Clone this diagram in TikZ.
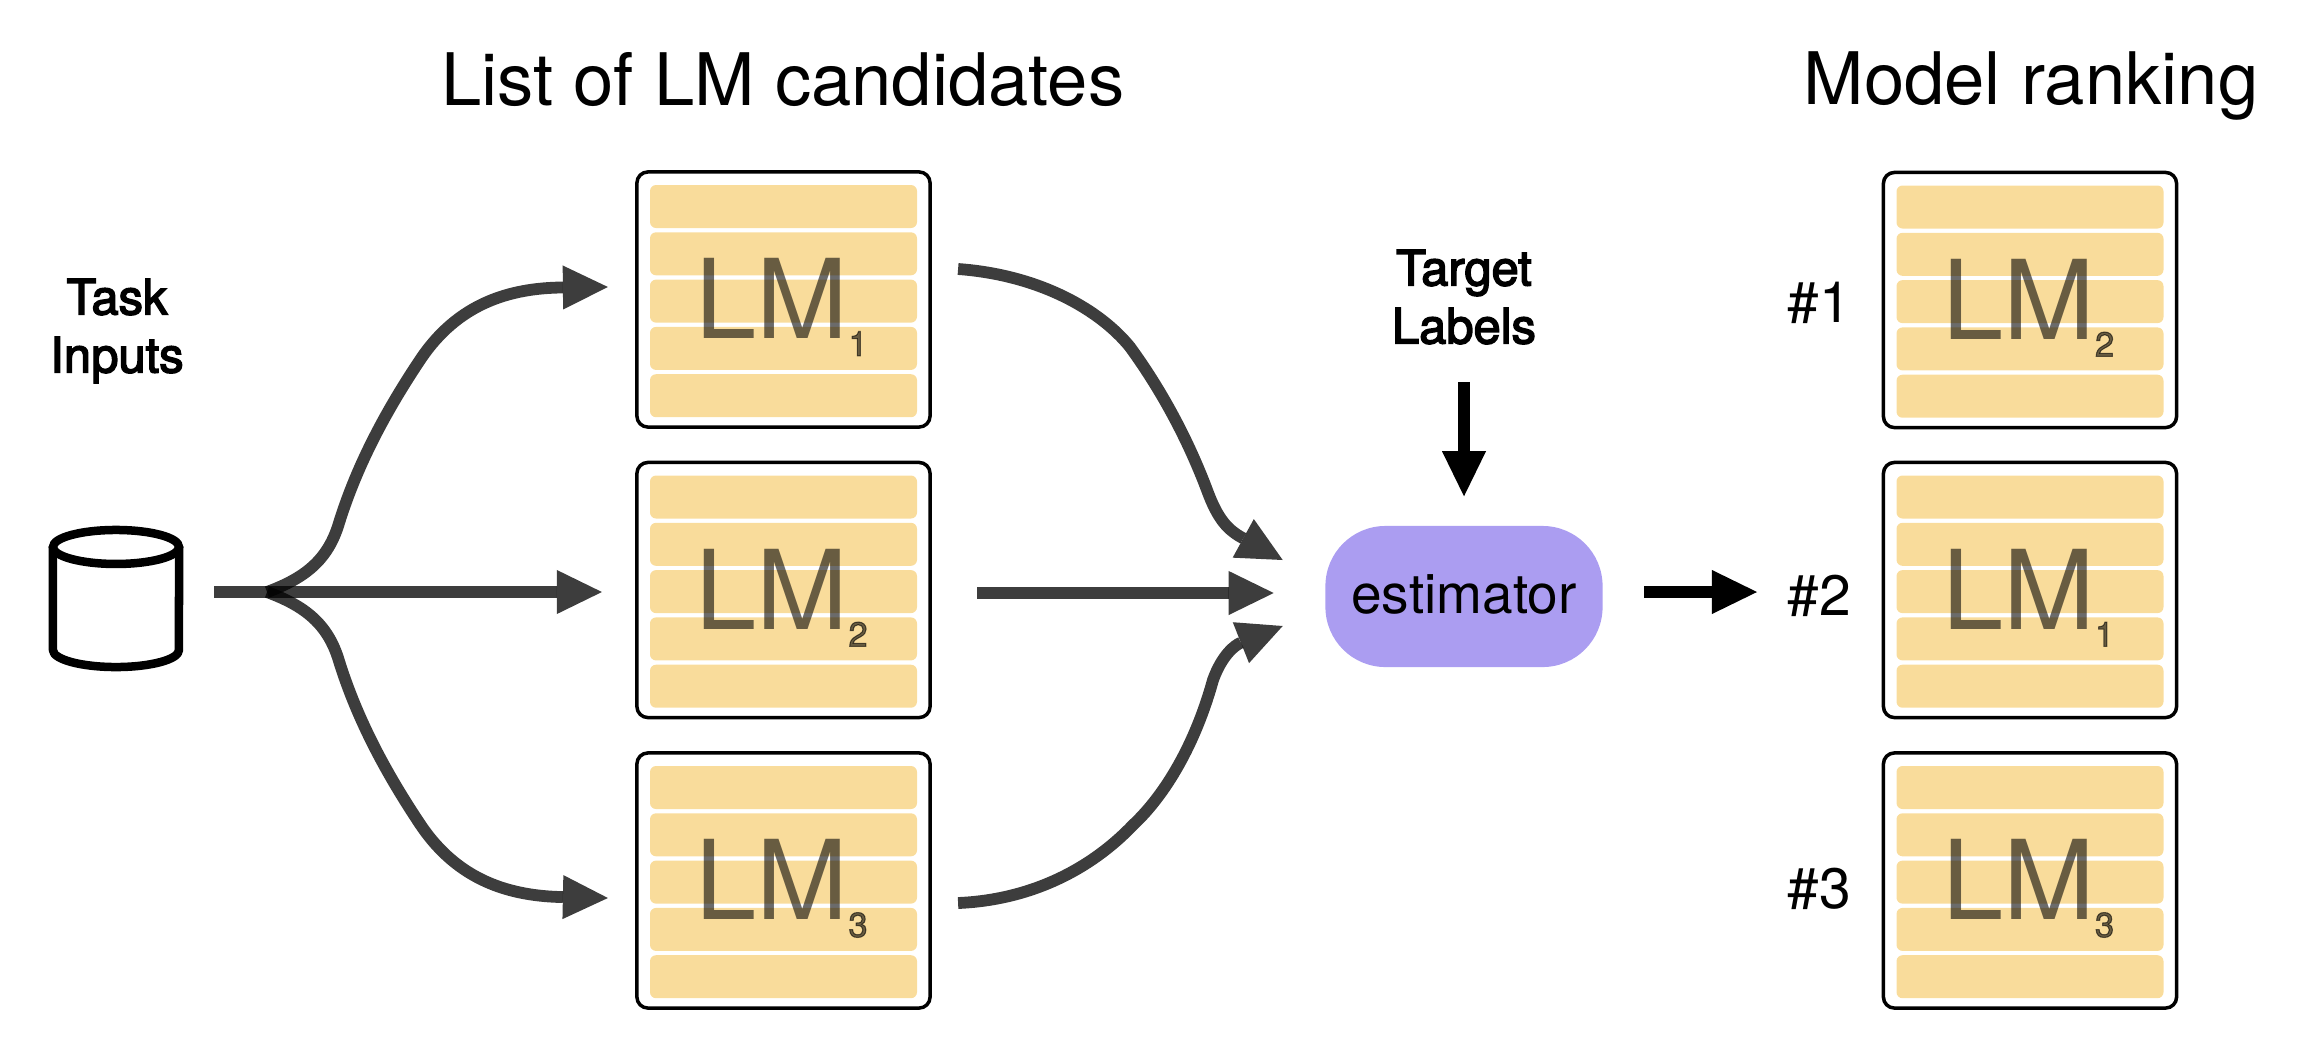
\documentclass[tikz,border=0pt]{standalone}
\usepackage{fontspec}
\setmainfont{TeX Gyre Heros}
\newfontfamily\medfont[FakeBold=3]{TeX Gyre Heros}
\usetikzlibrary{arrows.meta,calc,positioning}
\definecolor{barcol}{HTML}{F9DC9B}
\definecolor{estcol}{HTML}{AB9DF1}
\tikzstyle{lmbox}=[draw,line width=.035cm,rounded corners=.11cm,minimum width=2.93cm,minimum height=2.55cm,inner sep=0pt,outer sep=0pt]
\tikzstyle{bar}=[fill=barcol,rounded corners=.06cm]
\tikzstyle{lmtxt}=[anchor=base west,inner sep=0pt,text opacity=.58,font=\fontsize{31.3}{31.3}\selectfont]
\tikzstyle{head}=[anchor=base west,inner sep=0pt,font=\fontsize{20.6}{20.6}\selectfont]
\tikzstyle{side}=[align=center,inner sep=0pt,font=\medfont\fontsize{13.9}{16.5}\selectfont]
\tikzstyle{rank}=[anchor=base west,inner sep=0pt,font=\fontsize{16.2}{16.2}\selectfont]
\tikzstyle{flow}=[->,line width=.118cm,opacity=.76]
\tikzstyle{flowk}=[->,line width=.115cm]
\newcommand{\lmsub}[1]{\raisebox{-4.84pt}{\medfont\fontsize{9.8}{9.8}\selectfont #1}}

\begin{document}
\begin{tikzpicture}[
            x=.01cm,y=-.01cm,
            >={Triangle[length=.45cm,width=.44cm,line width=0pt]}
        ]
        \useasboundingbox (0,0) rectangle (2305,1060);
        \foreach \name/\cx/\cy/\sub in {lm1/783.5/299.5/1,lm2/783.5/590/2,lm3/783.5/880.5/3,rk1/2030/300/2,rk2/2030/590/1,rk3/2030/880.5/3} {
            \node [lmbox] (\name) at (\cx,\cy) {};
            \foreach \b in {0,...,4}
                \fill [bar] ($(\name.center)+(-133.5,-114.5+47.3*\b)$) rectangle +(267,43);
            \node [lmtxt] (\name-txt) at ($(\name.north west)+(58,167)$) {LM\lmsub{\sub}};
        }
        \node [head] (ttl1) at (440.5,105) {List of LM candidates};
        \node [head] (ttl2) at (1803,104) {Model ranking};
        \node [side] (task) at (117,331) {Task\\Inputs};
        \node [side] (tgt) at (1464,297) {Target\\Labels};
        \node [minimum width=1.26cm,minimum height=1.37cm,inner sep=0pt,outer sep=0pt] (db) at (116,598.5) {};
        \draw [line width=.085cm] ($(db.north)+(0,17)$) ellipse [x radius=63,y radius=17];
        \draw [line width=.085cm,line join=round] ($(db.north west)+(0,17)$) -- ($(db.south west)+(0,-17)$) arc [start angle=180,end angle=0,x radius=63,y radius=17] -- ($(db.north east)+(0,17)$);
        \node [fill=estcol,rounded corners=.6cm,minimum width=2.77cm,minimum height=1.41cm,text height=9.4pt,text depth=0pt,inner sep=0pt,font=\fontsize{15.65}{15.65}\selectfont] (est) at (1464,596.5) {estimator};
        \node [rank] (r1) at (1787,322) {\#1};
        \node [rank] (r2) at (1787,615) {\#2};
        \node [rank] (r3) at (1787,908) {\#3};
        \coordinate (fork) at ($(db.east)+(88,-6.5)$);
        \draw [flow] ($(db.east)+(35,-6.5)$) -- ($(lm2.west)+(-35,2)$);
        \draw [flow] (fork) .. controls (305,578) and (328,560) .. (339,523) .. controls (358,462) and (388,408) .. (420,360) .. controls (458,303) and (510,288) .. ($(lm1.west)+(-29,-12.5)$);
        \draw [flow] (fork) .. controls (305,606) and (328,624) .. (339,661) .. controls (358,722) and (388,776) .. (420,824) .. controls (458,881) and (510,896) .. ($(lm3.west)+(-29,17.5)$);
        \draw [flow] ($(lm1.east)+(28,-30.5)$) .. controls (1040,275) and (1100,310) .. (1130,347) .. controls (1165,395) and (1190,445) .. (1207,490) .. controls (1218,520) and (1228,530) .. ($(est.west)+(-42,-36.5)$);
        \draw [flow] ($(lm2.east)+(47,3)$) -- ($(est.west)+(-51,-3.5)$);
        \draw [flow] ($(lm3.east)+(28,22.5)$) .. controls (1030,900) and (1090,870) .. (1133,825) .. controls (1165,795) and (1195,745) .. (1213,680) .. controls (1222,655) and (1235,645) .. ($(est.west)+(-42,29.5)$);
        \draw [flowk] ($(tgt.south)+(0,37)$) -- ($(est.north)+(0,-29)$);
        \draw [flowk] ($(est.east)+(41,-4.5)$) -- ($(est.east -| r2.west)+(-30,-4.5)$);
    \end{tikzpicture}
\end{document}
